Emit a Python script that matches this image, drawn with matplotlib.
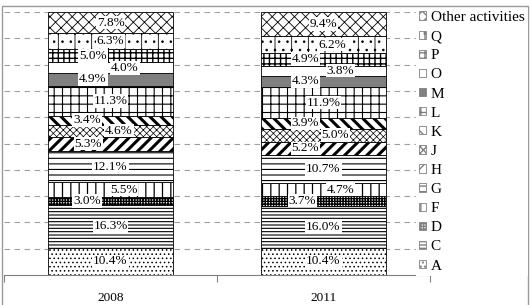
import matplotlib
matplotlib.use("Agg")
import matplotlib.pyplot as plt
from matplotlib.patches import Rectangle, Patch
import numpy as np

years = ["2008", "2011"]
sectors = ["A", "C", "D", "F", "G", "H", "J", "K", "L", "M", "O", "P", "Q", "Other activities"]
share_2008 = [10.4, 16.3, 3.0, 5.5, 12.1, 5.3, 4.6, 3.4, 11.3, 4.9, 4.0, 5.0, 6.3, 7.8]
share_2011 = [10.4, 16.0, 3.7, 4.7, 10.7, 5.2, 5.0, 3.9, 11.9, 4.3, 3.8, 4.9, 6.2, 9.4]

# styles (face, hatch, hatch linewidth)
styles = {
    "A": ("white", "....", 0.6),
    "C": ("white", "-----", 0.8),
    "D": ("white", "++++++", 1.0),
    "F": ("white", "||", 0.9),
    "G": ("white", "---", 0.8),
    "H": ("white", "///", 2.2),
    "J": ("white", "xxxxx", 0.5),
    "K": ("white", "\\\\\\", 2.2),
    "L": ("white", "++", 0.8),
    "M": ("#808080", "", 0.5),
    "O": ("white", "", 0.5),
    "P": ("white", "+++", 1.0),
    "Q": ("white", "|..", 0.6),
    "Other activities": ("white", "xxx", 0.6),
}
# horizontal label offsets (fraction of category spacing)
offsets = [
    [0, 0, -0.11, 0.063, 0, -0.105, 0.04, -0.11, 0, -0.082, 0.068, -0.082, 0, 0],
    [0, 0, -0.10, 0.08, 0, -0.085, 0.056, -0.085, 0, -0.085, 0.08, -0.085, 0.04, 0],
]

W, H = 531, 305
fig = plt.figure(figsize=(W / 100, H / 100), dpi=100)
fig.patch.set_facecolor("white")
fig.add_artist(Rectangle((2 / W, -0.01), 526 / W, 1 - 6 / H + 0.01, transform=fig.transFigure,
                         fill=False, edgecolor="#9a9a9a", linewidth=1.0))

ax = fig.add_axes([4 / W, 30 / H, 426 / W, 263 / H])
ax.set_xlim(-0.5, 1.5)
ax.set_ylim(0, 100)

for g in range(10, 101, 10):
    ax.axhline(g, color="#a0a0a0", linestyle=(0, (5, 4)), linewidth=0.8, zorder=0)

x = np.arange(len(years))
width = 0.585
data = [share_2008, share_2011]
font = "Liberation Serif"
handles = []
bottoms = np.zeros(len(years))
for i, s in enumerate(sectors):
    fc, hatch, hlw = styles[s]
    vals = np.array([data[0][i], data[1][i]])
    bars = ax.bar(x, vals, width, bottom=bottoms, color=fc, edgecolor="black",
                  hatch=hatch, linewidth=0.6, zorder=2)
    for b in bars:
        if hasattr(b, "set_hatch_linewidth"):
            b.set_hatch_linewidth(hlw)
    for j in range(len(years)):
        ax.text(x[j] + offsets[j][i], bottoms[j] + vals[j] / 2, f"{vals[j]:.1f}%",
                ha="center", va="center", fontsize=9.5, family=font, zorder=4,
                bbox=dict(facecolor="white", edgecolor="none", pad=0.6))
    h = Patch(facecolor=fc, edgecolor="#808080", hatch=hatch, linewidth=0.6, label=s)
    if hasattr(h, "set_hatch_linewidth"):
        h.set_hatch_linewidth(min(hlw, 0.8))
    handles.append(h)
    bottoms = bottoms + vals

for sp in ["top", "right", "left"]:
    ax.spines[sp].set_visible(False)
ax.spines["bottom"].set_color("#808080")
ax.spines["bottom"].set_linewidth(0.8)
ax.set_yticks([])
ax.set_xticks(x)
ax.set_xticklabels(years, family=font, fontsize=9.5)
ax.tick_params(axis="x", which="major", length=0, pad=12)
ax.set_xticks([-0.5, 0.5, 1.5], minor=True)
ax.tick_params(axis="x", which="minor", length=5, color="#808080", width=0.8)

leg = fig.legend(handles[::-1], sectors[::-1], loc="upper left",
                 bbox_to_anchor=(416 / W, 1 - 8 / H), frameon=True, fancybox=False,
                 prop=dict(family=font, size=11), labelspacing=0.40,
                 handlelength=0.47, handleheight=0.47, handletextpad=0.3,
                 borderpad=0.2, borderaxespad=0)
leg.get_frame().set_edgecolor("none")
leg.get_frame().set_facecolor("white")
leg.get_frame().set_alpha(1)

fig.savefig("out.png", dpi=100)
